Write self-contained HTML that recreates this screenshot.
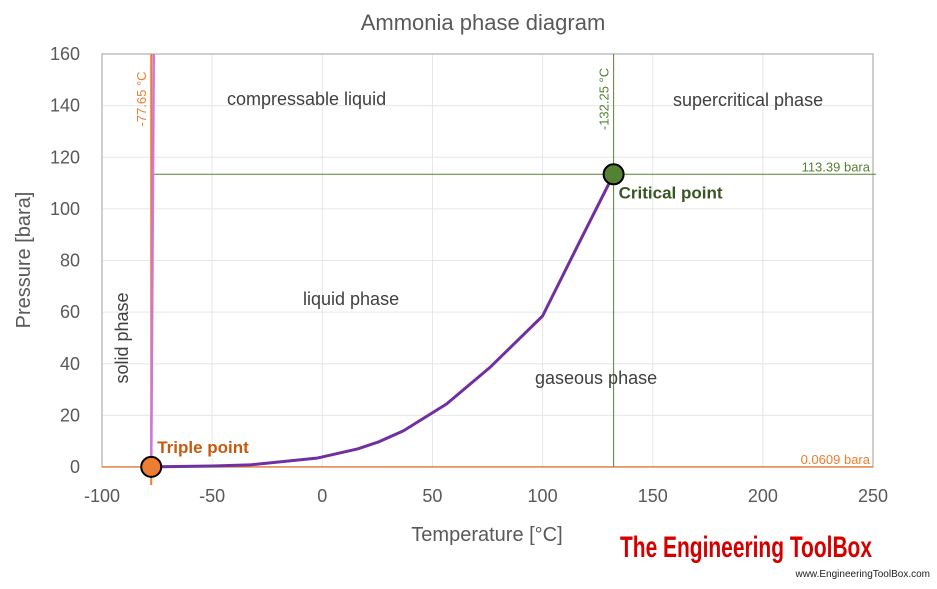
<!DOCTYPE html>
<html><head><meta charset="utf-8"><style>
body{margin:0;background:#fff;font-family:"Liberation Sans",sans-serif}
svg text{font-family:"Liberation Sans",sans-serif}
</style></head><body>
<svg id="chart" width="937" height="584" viewBox="0 0 937 584">
<rect width="937" height="584" fill="#fff"/>
<text x="483" y="30" font-size="22" fill="#595959" text-anchor="middle">Ammonia phase diagram</text>
<g id="grid"></g>
<g id="labels"></g>
<g id="marks"></g>
<text x="487" y="541" font-size="20" fill="#595959" text-anchor="middle">Temperature [°C]</text>
<text transform="translate(30,260) rotate(-90)" font-size="20" fill="#595959" text-anchor="middle">Pressure [bara]</text>
<text x="227" y="105" font-size="18" fill="#404040">compressable liquid</text>
<text x="673" y="106" font-size="18" fill="#404040">supercritical phase</text>
<text x="303" y="305" font-size="18" fill="#404040">liquid phase</text>
<text x="535" y="384" font-size="18" fill="#404040">gaseous phase</text>
<text transform="translate(128,338) rotate(-90)" font-size="18" fill="#404040" text-anchor="middle">solid phase</text>
<text x="620" y="557" font-size="30" font-weight="bold" fill="#d40000" textLength="252" lengthAdjust="spacingAndGlyphs">The Engineering ToolBox</text>
<text x="930" y="577" font-size="10" fill="#222" text-anchor="end">www.EngineeringToolBox.com</text>
</svg>
<script>
const xTicks=[-100,-50,0,50,100,150,200,250];
const yTicks=[0,20,40,60,80,100,120,140,160];
const vapTemps=[-77.65,-50,-33,-2,16,25.5,36.8,56.4,76.4,100,115.5,132.25];
const vapPress=[0.0609,0.4,0.8,3.5,7,9.7,14,24.4,38.8,58.5,85,113.39];
const meltTemps=[-77.65,-76.5];
const meltPress=[0,160];
const triple=[-77.65,0.0609];
const critical=[132.25,113.39];
const L=102,R=873,T=54,B=467;
const sx=v=>L+(v+100)/350*(R-L);
const sy=v=>B-v/160*(B-T);
const NS="http://www.w3.org/2000/svg";
function mk(parent,tag,attrs){const e=document.createElementNS(NS,tag);for(const k in attrs)e.setAttribute(k,attrs[k]);document.getElementById(parent).appendChild(e);return e;}
xTicks.forEach(t=>{
 const l=mk('grid','line',{x1:sx(t),x2:sx(t),y1:T,y2:B,stroke:'#e6e6e6','stroke-width':1});
 
 
 const tx=mk('labels','text',{x:sx(t),y:B+35,'font-size':18,fill:'#595959','text-anchor':'middle'});
 tx.textContent=t;
 
 
});
yTicks.forEach(t=>{
 const l=mk('grid','line',{x1:L,x2:R,y1:sy(t),y2:sy(t),stroke:'#e6e6e6','stroke-width':1});
 
 
 const tx=mk('labels','text',{x:L-22,y:sy(t)+6,'font-size':18,fill:'#595959','text-anchor':'end'});
 tx.textContent=t;
 
 
});
const fr=mk('grid','rect',{x:L,y:T,width:R-L,height:B-T,fill:'none',stroke:'#bfbfbf','stroke-width':1.5});


let e=mk('marks','line',{x1:L,x2:R,y1:sy(triple[1]),y2:sy(triple[1]),stroke:'#ed7d31','stroke-width':1.2});


e=mk('marks','line',{x1:sx(triple[0]),x2:sx(triple[0]),y1:T,y2:B+18,stroke:'#ed7d31','stroke-width':2});


e=mk('marks','line',{x1:sx(critical[0]),x2:sx(critical[0]),y1:T,y2:B,stroke:'#548235','stroke-width':1});


e=mk('marks','line',{x1:sx(triple[0])+2,x2:R+3,y1:sy(critical[1]),y2:sy(critical[1]),stroke:'#548235','stroke-width':1});


e=mk('marks','polyline',{points:meltTemps.map((t,i)=>sx(t)+','+sy(meltPress[i])).join(' '),fill:'none',stroke:'#cc77dd','stroke-width':2.5});


e=mk('marks','polyline',{points:vapTemps.map((t,i)=>sx(t)+','+sy(vapPress[i])).join(' '),fill:'none',stroke:'#7030a0','stroke-width':3,'stroke-linejoin':'round'});


e=mk('marks','circle',{cx:sx(triple[0]),cy:sy(triple[1]),r:10,fill:'#ed7d31',stroke:'#000','stroke-width':2});


e=mk('marks','circle',{cx:sx(critical[0]),cy:sy(critical[1]),r:10,fill:'#548235',stroke:'#000','stroke-width':2});


function lbl(txt,x,y,attrs,name){const t=mk('marks','text',Object.assign({x:x,y:y},attrs));t.textContent=txt;return t;}
lbl('Triple point',sx(triple[0])+6,sy(triple[1])-14,{'font-size':17,'font-weight':'bold',fill:'#c55a11'},'triple-point-label');
lbl('Critical point',sx(critical[0])+5,sy(critical[1])+24,{'font-size':17,'font-weight':'bold',fill:'#375623'},'critical-point-label');
lbl('0.0609 bara',R-3,sy(triple[1])-3,{'font-size':13,fill:'#ed7d31','text-anchor':'end'},'triple-pressure-value');
lbl('113.39 bara',R-3,sy(critical[1])-3,{'font-size':13,fill:'#548235','text-anchor':'end'},'critical-pressure-value');
lbl('-77.65 °C',0,0,{'font-size':13,fill:'#ed7d31','text-anchor':'middle',transform:'translate('+(sx(triple[0])-5)+',99) rotate(-90)'},'triple-temperature-value');
lbl('-132.25 °C',0,0,{'font-size':13,fill:'#548235','text-anchor':'middle',transform:'translate('+(sx(critical[0])-5)+',99) rotate(-90)'},'critical-temperature-value');
</script>
</body></html>
